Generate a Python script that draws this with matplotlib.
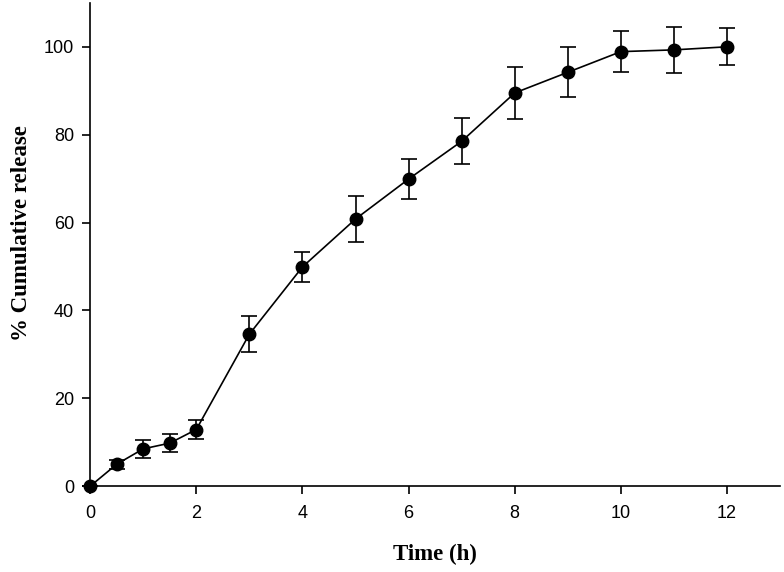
import matplotlib
matplotlib.use("Agg")
import matplotlib.pyplot as plt

# Release data
time_h = [0, 0.5, 1, 1.5, 2, 3, 4, 5, 6, 7, 8, 9, 10, 11, 12]
release = [0, 5.0, 8.5, 9.8, 12.9, 34.6, 49.9, 60.8, 69.9, 78.5, 89.5, 94.2, 98.9, 99.3, 100.0]
release_err = [0, 1.0, 2.0, 2.1, 2.1, 4.1, 3.4, 5.2, 4.6, 5.2, 6.0, 5.7, 4.7, 5.3, 4.2]

x_ticks = [0, 2, 4, 6, 8, 10, 12]
y_ticks = [0, 20, 40, 60, 80, 100]

fig = plt.figure(figsize=(7.84, 5.72), dpi=100)
ax = fig.add_axes([0.115, 0.150, 0.880, 0.845])

ax.errorbar(time_h, release, yerr=release_err, color='black', marker='o',
            markersize=9, linewidth=1.2, elinewidth=1.2, capsize=5.5,
            capthick=1.2, clip_on=False, zorder=3)

ax.set_xlim(0, 13)
ax.set_ylim(0, 110)
ax.set_xticks(x_ticks)
ax.set_yticks(y_ticks)

for side in ('top', 'right'):
    ax.spines[side].set_visible(False)
for side in ('left', 'bottom'):
    ax.spines[side].set_linewidth(1.2)

ax.tick_params(direction='out', length=5.5, width=1.2, labelsize=13)
ax.tick_params(axis='x', pad=8)
ax.tick_params(axis='y', pad=6)
for lbl in ax.get_xticklabels() + ax.get_yticklabels():
    lbl.set_family('Liberation Sans')

ax.set_xlabel('Time (h)', family='Liberation Serif', fontweight='bold',
              fontsize=16.5, labelpad=16)
ax.set_ylabel('% Cumulative release', family='Liberation Serif',
              fontweight='bold', fontsize=16.5)
ax.yaxis.set_label_coords(-0.085, 0.523)

plt.savefig('out.png', dpi=100)
plt.close()
